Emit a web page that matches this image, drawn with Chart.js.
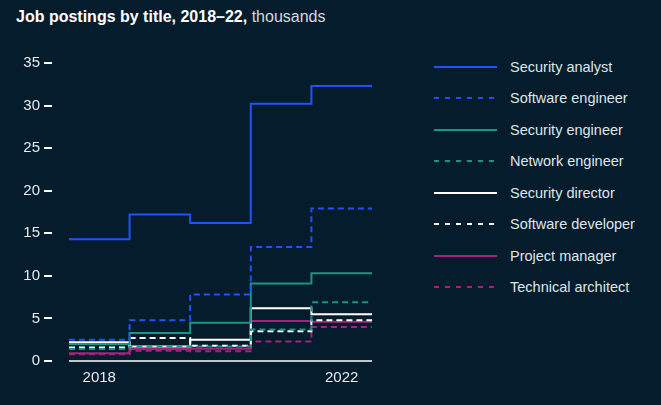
<!DOCTYPE html>
<html>
<head>
<meta charset="utf-8">
<script src="https://cdn.jsdelivr.net/npm/chart.js@4/dist/chart.umd.min.js"></script>
<style>
  html, body { margin: 0; padding: 0; background: #051c2c; width: 661px; height: 405px; overflow: hidden; }
  #title { position: absolute; left: 16px; top: 8px; color: #ffffff; font: 16px "Liberation Sans", Arial, sans-serif; white-space: nowrap; }
  #title b { font-weight: bold; }
  #title span { color: #d3dae0; }
  #wrap { position: absolute; left: 0; top: 0; width: 390px; height: 405px; }
  #legend { position: absolute; left: 434px; top: 51px; }
  .row { height: 31.5px; display: flex; align-items: center; color: #dfe5ea; font: 14.5px "Liberation Sans", Arial, sans-serif; }
  .row svg { margin-right: 13px; }
</style>
</head>
<body>
<div id="title"><b>Job postings by title, 2018–22,</b><span> thousands</span></div>
<div id="wrap"><canvas id="chart"></canvas></div>
<div id="legend"></div>
<script>
// valores, em milhares
const years = [2018, 2019, 2020, 2021, 2022];
const yTicks = [0, 5, 10, 15, 20, 25, 30, 35];
const xTicks = [2018, 2022];

const titles = ['Security analyst', 'Software engineer', 'Security engineer', 'Network engineer',
  'Security director', 'Software developer', 'Project manager', 'Technical architect'];

const securityAnalyst = [14.3, 17.2, 16.2, 30.2, 32.3];
const softwareEngineer = [2.5, 4.8, 7.8, 13.4, 17.9];
const securityEngineer = [2.0, 3.3, 4.5, 9.1, 10.3];
const networkEngineer = [1.4, 1.7, 1.7, 3.7, 6.9];
const securityDirector = [2.2, 1.7, 2.5, 6.2, 5.5];
const softwareDeveloper = [1.6, 2.7, 1.8, 3.5, 4.8];
const projectManager = [0.9, 1.4, 1.45, 4.7, 4.6];
const technicalArchitect = [0.8, 1.2, 1.15, 2.3, 4.0];

const series = [securityAnalyst, softwareEngineer, securityEngineer, networkEngineer,
  securityDirector, softwareDeveloper, projectManager, technicalArchitect];

const BLUE = '#2251ff', TEAL = '#1a9485', WHITE = '#ffffff', MAGENTA = '#a3237f';
const colors = [BLUE, BLUE, TEAL, TEAL, WHITE, WHITE, MAGENTA, MAGENTA];
const dashed = [false, true, false, true, false, true, false, true];

// cada ano ocupa uma faixa de um ano inteiro (ano-0.5 .. ano+0.5)
function toSteps(values) {
  const pts = values.map((v, i) => ({ x: years[i] - 0.5, y: v }));
  pts.push({ x: years[years.length - 1] + 0.5, y: values[values.length - 1] });
  return pts;
}

const datasets = series.map((s, i) => ({
  label: titles[i],
  data: toSteps(s),
  borderColor: colors[i],
  borderWidth: 2,
  borderDash: dashed[i] ? [6, 4] : [],
  stepped: true,
  pointRadius: 0,
  fill: false,
  clip: false
}));

// linha do zero só sobre a faixa dos dados
const baseline = {
  id: 'baseline',
  beforeDatasetsDraw(chart) {
    const { ctx, scales: { x, y } } = chart;
    const y0 = y.getPixelForValue(0);
    ctx.save();
    ctx.strokeStyle = '#ffffff';
    ctx.lineWidth = 1.5;
    ctx.beginPath();
    ctx.moveTo(x.getPixelForValue(years[0] - 0.5), y0);
    ctx.lineTo(x.getPixelForValue(years[years.length - 1] + 0.5), y0);
    ctx.stroke();
    ctx.restore();
  }
};

const tickFont = { family: '"Liberation Sans", Arial, sans-serif', size: 15 };

new Chart(document.getElementById('chart'), {
  type: 'line',
  data: { datasets },
  options: {
    responsive: true,
    maintainAspectRatio: false,
    animation: false,
    layout: { padding: { top: 63, right: 18, bottom: 10, left: 0 } },
    plugins: { legend: { display: false }, tooltip: { enabled: false } },
    scales: {
      x: {
        type: 'linear',
        min: 2017.22,
        max: 2022.5,
        grid: { display: false, drawTicks: false },
        border: { display: false },
        afterBuildTicks: ax => { ax.ticks = xTicks.map(v => ({ value: v })); },
        ticks: { color: '#e6ebef', font: tickFont, padding: 8, callback: v => String(v) }
      },
      y: {
        min: 0,
        max: 35,
        afterBuildTicks: ax => { ax.ticks = yTicks.map(v => ({ value: v })); },
        afterFit: ax => { ax.width = 52; },
        grid: { drawOnChartArea: false, color: '#ffffff', lineWidth: 2, tickLength: 8 },
        border: { display: false },
        ticks: { color: '#e6ebef', font: tickFont, padding: 4 }
      }
    }
  },
  plugins: [baseline]
});

// legenda em HTML
const legend = document.getElementById('legend');
titles.forEach((t, i) => {
  const row = document.createElement('div');
  row.className = 'row';
  row.innerHTML = `<svg width="63" height="4"><line x1="0" y1="2" x2="63" y2="2" stroke="${colors[i]}" stroke-width="2" ${dashed[i] ? 'stroke-dasharray="5 6"' : ''}/></svg><span>${t}</span>`;
  legend.appendChild(row);
});
</script>
</body>
</html>
